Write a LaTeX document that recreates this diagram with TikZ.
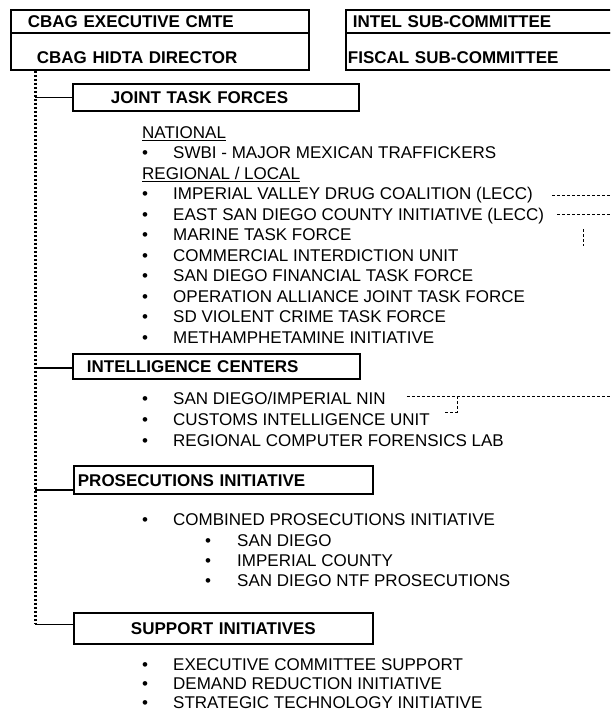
\documentclass[tikz,border=0pt]{standalone}
\usepackage{fontspec}
\setmainfont{Liberation Sans}
\usetikzlibrary{calc}
\tikzset{
	chartbox/.style={draw, line width=1.8pt, font=\fontsize{17}{20}\selectfont\bfseries, inner ysep=0pt, text height=12.2pt, text depth=0pt, anchor=north west, align=left},
	listitem/.style={anchor=west, inner sep=0pt, text height=12.2pt, text depth=0pt},
	trunkline/.style={line width=3pt, dash pattern=on 2pt off 2pt},
	branchline/.style={line width=1.6pt},
	linkline/.style={line width=0.8pt, dash pattern=on 3pt off 2pt},
	underline/.style={line width=0.8pt}
}
\def\bul{\makebox[31pt][l]{\textbullet}}
\def\subbul{\makebox[32pt][l]{\textbullet}}

\begin{document}
\begin{tikzpicture}[x=1pt, y=-1pt, font=\fontsize{17}{20}\selectfont]
			%%%%% FRAME %%%%%
			\useasboundingbox (0, 0) rectangle (610, 711);
			\fill[white] (0, 0) rectangle (610, 711);
			\clip (0, 0) rectangle (610, 711);
			
			%%%%% TOP BOXES %%%%%
			\node[chartbox, minimum height=23pt, inner xsep=17pt, text width=264pt] (exec) at (10, 9) {CBAG EXECUTIVE CMTE};
			\node[chartbox, minimum height=37pt, inner xsep=26pt, text width=246pt, text height=25.2pt] (director) at (10, 32) {CBAG HIDTA DIRECTOR};
			
			\node[chartbox, minimum height=23pt, inner xsep=7pt, text width=253pt] (intel) at (345, 9) {INTEL SUB-COMMITTEE};
			\node[chartbox, minimum height=37pt, inner xsep=2pt, text width=263pt, text height=25.2pt] (fiscal) at (345, 32) {FISCAL SUB-COMMITTEE};
			
			%%%%% JOINT TASK FORCES %%%%%
			\node[chartbox, minimum height=27pt, inner xsep=38pt, text width=210pt] (jtf) at (72, 83) {JOINT TASK FORCES};
			
			\node[listitem] (natl) at (142, 132) {NATIONAL};
			\node[listitem] (swbi) at (142, 152.5) {\bul SWBI - MAJOR MEXICAN TRAFFICKERS};
			\node[listitem] (regl) at (142, 173) {REGIONAL / LOCAL};
			\node[listitem] (imp) at (142, 193.5) {\bul IMPERIAL VALLEY DRUG COALITION (LECC)};
			\node[listitem] (east) at (142, 214) {\bul EAST SAN DIEGO COUNTY INITIATIVE (LECC)};
			\node[listitem] (marine) at (142, 234.5) {\bul MARINE TASK FORCE};
			\node[listitem] (ciu) at (142, 255) {\bul COMMERCIAL INTERDICTION UNIT};
			\node[listitem] (sdftf) at (142, 275.5) {\bul SAN DIEGO FINANCIAL TASK FORCE};
			\node[listitem] (oajtf) at (142, 296) {\bul OPERATION ALLIANCE JOINT TASK FORCE};
			\node[listitem] (sdvc) at (142, 316.5) {\bul SD VIOLENT CRIME TASK FORCE};
			\node[listitem] (meth) at (142, 337) {\bul METHAMPHETAMINE INITIATIVE};
			
			\draw[underline] ([yshift=-2pt]natl.south west) -- ([yshift=-2pt]natl.south east);
			\draw[underline] ([yshift=-2pt]regl.south west) -- ([yshift=-2pt]regl.south east);
			
			%%%%% INTELLIGENCE CENTERS %%%%%
			\node[chartbox, minimum height=25pt, inner xsep=14pt, text width=259pt] (icen) at (72, 353) {INTELLIGENCE CENTERS};
			
			\node[listitem] (nin) at (142, 398) {\bul SAN DIEGO/IMPERIAL NIN};
			\node[listitem] (cust) at (142, 419) {\bul CUSTOMS INTELLIGENCE UNIT};
			\node[listitem] (rcfl) at (142, 440) {\bul REGIONAL COMPUTER FORENSICS LAB};
			
			%%%%% PROSECUTIONS %%%%%
			\node[chartbox, minimum height=28pt, inner xsep=4pt, text width=291pt] (prosec) at (73, 465) {PROSECUTIONS INITIATIVE};
			
			\node[listitem] (cpi) at (142, 519) {\bul COMBINED PROSECUTIONS INITIATIVE};
			\node[listitem] (cpisd) at (205, 540) {\subbul SAN DIEGO};
			\node[listitem] (cpiic) at (205, 560) {\subbul IMPERIAL COUNTY};
			\node[listitem] (cpintf) at (205, 580) {\subbul SAN DIEGO NTF PROSECUTIONS};
			
			%%%%% SUPPORT %%%%%
			\node[chartbox, minimum height=31pt, inner xsep=4pt, text width=291pt, align=center] (support) at (73, 612) {SUPPORT INITIATIVES};
			
			\node[listitem] (ecs) at (142, 664) {\bul EXECUTIVE COMMITTEE SUPPORT};
			\node[listitem] (dri) at (142, 683) {\bul DEMAND REDUCTION INITIATIVE};
			\node[listitem] (sti) at (142, 702) {\bul STRATEGIC TECHNOLOGY INITIATIVE};
			
			%%%%% TRUNK %%%%%
			\coordinate (trunktop) at ([xshift=25pt]director.south west);
			\coordinate (supin) at ([yshift=4pt]support.west);
			\coordinate (icenin) at ([yshift=-1.5pt]icen.west);
			\coordinate (prosin) at ([yshift=5pt]prosec.south west);
			
			\draw[trunkline] (trunktop) -- (supin -| trunktop);
			\draw[branchline] (supin -| trunktop) -- (supin);
			\draw[branchline] (jtf.west -| trunktop) -- (jtf.west);
			\draw[branchline] (icenin -| trunktop) -- (icenin);
			\draw[branchline] (prosin -| trunktop) -- (prosin);
			
			%%%%% LINKS %%%%%
			\coordinate (rim) at (612, 0);
			\coordinate (impout) at ([xshift=19pt, yshift=-2pt]imp.east);
			\coordinate (eastout) at ([xshift=13pt]east.east);
			\coordinate (drop) at (583, 229);
			\coordinate (ninout) at ([xshift=21pt, yshift=2pt]nin.east);
			\coordinate (custout) at ([xshift=15pt, yshift=7pt]cust.east);
			\coordinate (ninjoin) at (457, 0);
			
			\draw[linkline] (impout) -- (impout -| rim);
			\draw[linkline] (eastout) -- (eastout -| rim);
			\draw[linkline] (drop) -- ++(0, 17);
			\draw[linkline] (ninout) -- (ninout -| rim);
			\draw[linkline] (custout) -| (ninjoin |- ninout);
			
		\end{tikzpicture}
\end{document}
